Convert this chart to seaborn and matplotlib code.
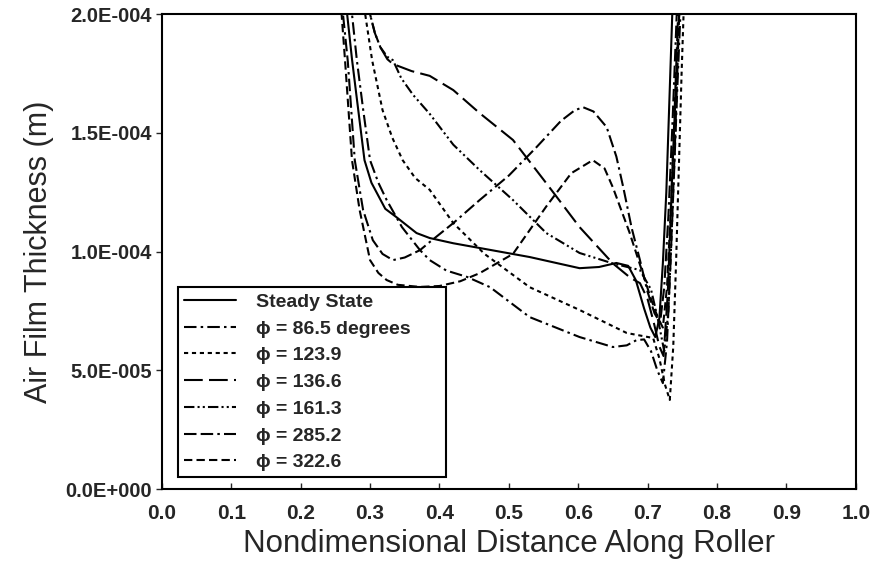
import matplotlib
matplotlib.use("Agg")
import matplotlib.pyplot as plt
import seaborn as sns
import pandas as pd

# Air film thickness along the roller (units of 1e-4 m)
ss_x = [0.252, 0.259, 0.267, 0.274, 0.282, 0.292, 0.302, 0.310, 0.322, 0.338, 0.367, 0.386, 0.42, 0.458, 0.53, 0.602,
        0.630, 0.655, 0.672, 0.683, 0.695, 0.704, 0.711, 0.717, 0.722, 0.727, 0.731, 0.735, 0.740]
ss_h = [2.6, 2.3, 2.0, 1.81, 1.62, 1.385, 1.29, 1.246, 1.18, 1.145, 1.078, 1.057, 1.035, 1.015, 0.977, 0.93,
        0.935, 0.952, 0.94, 0.88, 0.76, 0.68, 0.64, 0.72, 0.95, 1.25, 1.6, 1.95, 2.4]

p86_x = [0.262, 0.268, 0.274, 0.281, 0.290, 0.300, 0.312, 0.324, 0.346, 0.372, 0.386, 0.41, 0.44, 0.473, 0.53, 0.602,
         0.65, 0.670, 0.684, 0.695, 0.705, 0.714, 0.722, 0.728, 0.733, 0.738, 0.743, 0.748, 0.752]
p86_h = [2.6, 2.3, 2.0, 1.806, 1.60, 1.385, 1.29, 1.217, 1.103, 1.006, 0.964, 0.92, 0.893, 0.85, 0.724, 0.64,
         0.598, 0.605, 0.627, 0.63, 0.58, 0.50, 0.446, 0.62, 0.95, 1.32, 1.7, 2.05, 2.4]

p124_x = [0.285, 0.293, 0.303, 0.318, 0.332, 0.347, 0.365, 0.386, 0.42, 0.465, 0.53, 0.602, 0.67, 0.708, 0.717,
          0.725, 0.732, 0.737, 0.741, 0.745, 0.749, 0.753, 0.757]
p124_h = [2.4, 2.0, 1.806, 1.596, 1.48, 1.385, 1.31, 1.26, 1.12, 0.99, 0.85, 0.754, 0.657, 0.636, 0.55,
          0.44, 0.375, 0.6, 0.95, 1.35, 1.75, 2.1, 2.4]

p137_x = [0.293, 0.300, 0.307, 0.315, 0.325, 0.333, 0.36, 0.386, 0.42, 0.458, 0.506, 0.554, 0.602, 0.65, 0.675,
          0.689, 0.700, 0.709, 0.717, 0.723, 0.729, 0.734, 0.739, 0.744, 0.749]
p137_h = [2.4, 2.0, 1.92, 1.86, 1.81, 1.79, 1.76, 1.74, 1.68, 1.583, 1.47, 1.288, 1.103, 0.95, 0.89,
          0.867, 0.80, 0.70, 0.60, 0.56, 0.82, 1.2, 1.6, 2.0, 2.4]

p161_x = [0.293, 0.300, 0.307, 0.315, 0.325, 0.333, 0.345, 0.362, 0.386, 0.42, 0.458, 0.506, 0.554, 0.602, 0.65,
          0.689, 0.705, 0.716, 0.724, 0.730, 0.735, 0.740, 0.745, 0.750]
p161_h = [2.4, 2.0, 1.92, 1.86, 1.82, 1.806, 1.73, 1.66, 1.58, 1.45, 1.343, 1.217, 1.078, 0.994, 0.95,
          0.922, 0.84, 0.70, 0.58, 0.75, 1.1, 1.5, 1.95, 2.4]

p285_x = [0.250, 0.255, 0.261, 0.268, 0.278, 0.290, 0.304, 0.318, 0.333, 0.350, 0.372, 0.386, 0.42, 0.458, 0.50,
          0.54, 0.575, 0.595, 0.607, 0.622, 0.641, 0.655, 0.665, 0.677, 0.689, 0.700, 0.710, 0.718, 0.724, 0.730,
          0.736, 0.742, 0.748]
p285_h = [2.6, 2.3, 2.0, 1.80, 1.385, 1.175, 1.048, 0.99, 0.964, 0.975, 1.006, 1.04, 1.12, 1.217, 1.32,
          1.44, 1.55, 1.595, 1.608, 1.59, 1.524, 1.40, 1.27, 1.10, 0.964, 0.83, 0.74, 0.70, 0.85, 1.15,
          1.55, 2.0, 2.4]

p323_x = [0.248, 0.253, 0.259, 0.264, 0.274, 0.285, 0.300, 0.312, 0.324, 0.340, 0.372, 0.40, 0.43, 0.458, 0.506,
          0.554, 0.59, 0.621, 0.638, 0.65, 0.674, 0.693, 0.705, 0.715, 0.722, 0.728, 0.733, 0.738, 0.743, 0.748,
          0.753]
p323_h = [2.6, 2.3, 2.0, 1.804, 1.385, 1.175, 0.964, 0.91, 0.88, 0.86, 0.851, 0.855, 0.875, 0.909, 0.99,
          1.19, 1.33, 1.385, 1.35, 1.27, 1.08, 0.909, 0.80, 0.72, 0.68, 0.85, 1.15, 1.5, 1.85, 2.15, 2.5]

labels = ["Steady State", "\u03d5 = 86.5 degrees", "\u03d5 = 123.9", "\u03d5 = 136.6",
          "\u03d5 = 161.3", "\u03d5 = 285.2", "\u03d5 = 322.6"]
xs = [ss_x, p86_x, p124_x, p137_x, p161_x, p285_x, p323_x]
hs = [ss_h, p86_h, p124_h, p137_h, p161_h, p285_h, p323_h]
dash_styles = ["-", (0, (6, 2, 1.2, 2)), (0, (2, 1.8)), (0, (9, 3)),
               (0, (5, 1.5, 1, 1.5, 1, 1.5)), (0, (6, 2, 6, 2, 1.2, 2)), (0, (4, 2))]

xticks = [0.0, 0.1, 0.2, 0.3, 0.4, 0.5, 0.6, 0.7, 0.8, 0.9, 1.0]
xtick_labels = ["0.0", "0.1", "0.2", "0.3", "0.4", "0.5", "0.6", "0.7", "0.8", "0.9", "1.0"]
yticks = [0.0, 5e-5, 1e-4, 1.5e-4, 2e-4]
ytick_labels = ["0.0E+000", "5.0E-005", "1.0E-004", "1.5E-004", "2.0E-004"]

sns.set_style("ticks")
plt.rcParams["font.family"] = ["Liberation Sans", "DejaVu Sans"]

fig = plt.figure(figsize=(8.75, 5.65), dpi=100)
ax = fig.add_axes([0.185, 0.1345, 0.793, 0.8405])

for lab, x, h, ls in zip(labels, xs, hs, dash_styles):
    df = pd.DataFrame({"x": x, "h": [v * 1e-4 for v in h]})
    sns.lineplot(data=df, x="x", y="h", ax=ax, color="black", lw=1.5,
                 linestyle=ls, label=lab, estimator=None, sort=False)

ax.set_xlim(0, 1)
ax.set_ylim(0, 2e-4)
ax.set_xticks(xticks)
ax.set_xticklabels(xtick_labels, fontsize=15, fontweight="bold")
ax.set_yticks(yticks)
ax.set_yticklabels(ytick_labels, fontsize=14.5, fontweight="bold")
ax.tick_params(axis="x", direction="in", length=4, width=1, pad=11)
ax.tick_params(axis="y", direction="out", length=4, width=1, pad=3)
for sp in ax.spines.values():
    sp.set_visible(True)
    sp.set_linewidth(1.5)
    sp.set_color("black")

ax.set_xlabel("Nondimensional Distance Along Roller", fontsize=22.5, labelpad=4)
ax.set_ylabel("Air Film Thickness (m)", fontsize=22, labelpad=8)

leg = ax.legend(loc="lower left", bbox_to_anchor=(0.023, 0.025, 0.386, 0.404), mode="expand",
                borderaxespad=0, prop={"weight": "bold", "size": 14}, handlelength=2.7,
                handletextpad=1.0, labelspacing=0.47, fancybox=False, edgecolor="black",
                framealpha=1, borderpad=0.3)
leg.get_frame().set_linewidth(1.5)

fig.savefig("out.png", dpi=100)
